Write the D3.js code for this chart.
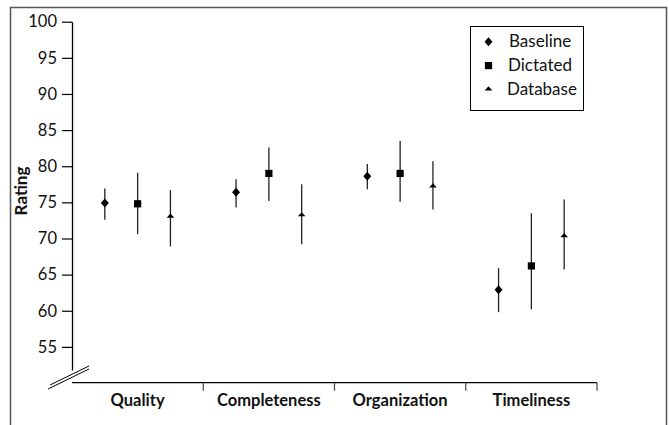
<!DOCTYPE html>
<html>
<head>
<meta charset="utf-8">
<script src="https://cdn.jsdelivr.net/npm/d3@7"></script>
<style>
  body { margin: 0; background: #fff; }
  text { font-family: Lato, "Open Sans", sans-serif; fill: #111; }
  .catLabel { font-size: 16.5px; font-weight: bold; }
  .legendText { font-size: 17px; }
</style>
</head>
<body>
<div id="chart"></div>
<script>
// chart data
var categories = ["Quality", "Completeness", "Organization", "Timeliness"];
var series = ["Baseline", "Dictated", "Database"];
var yTicks = [55, 60, 65, 70, 75, 80, 85, 90, 95, 100];

// mean, low, high per category (same order as categories)
var baselineMean = [74.9, 76.4, 78.6, 62.9];
var baselineLow  = [72.6, 74.3, 76.8, 59.8];
var baselineHigh = [76.9, 78.2, 80.3, 65.9];

var dictatedMean = [74.8, 79.0, 79.0, 66.2];
var dictatedLow  = [70.6, 75.2, 75.1, 60.2];
var dictatedHigh = [79.1, 82.6, 83.5, 73.5];

var databaseMean = [73.0, 73.2, 77.2, 70.3];
var databaseLow  = [68.9, 69.2, 74.0, 65.7];
var databaseHigh = [76.7, 77.5, 80.7, 75.4];

var seriesValues = {
    "Baseline": [baselineMean, baselineLow, baselineHigh],
    "Dictated": [dictatedMean, dictatedLow, dictatedHigh],
    "Database": [databaseMean, databaseLow, databaseHigh]
};

var width = 669, height = 425;

var svg = d3.select("#chart").append("svg")
    .attr("width", width)
    .attr("height", height);

// outer frame
svg.append("rect")
    .attr("x", 10.5).attr("y", 7.5)
    .attr("width", 656).attr("height", 440)
    .attr("fill", "none")
    .attr("stroke", "#555")
    .attr("stroke-width", 1.5);

// scales
var y = d3.scaleLinear()
    .domain([51.8, 100])
    .range([370, 21.7]);

var x = d3.scaleBand()
    .domain(categories)
    .range([72, 597])
    .padding(0);

var xs = d3.scalePoint()
    .domain(series)
    .range([0, x.bandwidth()])
    .padding(1);

// y axis
var yAxis = svg.append("g")
    .attr("transform", "translate(72,0)")
    .call(d3.axisLeft(y).tickValues(yTicks).tickSize(10).tickSizeOuter(0).tickPadding(5));
yAxis.select(".domain").attr("stroke", "#000").attr("stroke-width", 1.3);
yAxis.selectAll(".tick line").attr("stroke", "#000").attr("stroke-width", 1.2);
yAxis.selectAll(".tick text").attr("fill", "#111").style("font-size", "16.5px")
    .style("font-family", "Lato, 'Open Sans', sans-serif");

// x axis line and category dividers
var axisY = 382.7;
svg.append("line")
    .attr("x1", x.range()[0]).attr("x2", x.range()[1])
    .attr("y1", axisY).attr("y2", axisY)
    .attr("stroke", "#000").attr("stroke-width", 1.3);

svg.selectAll(".divider")
    .data(categories)
    .enter().append("line")
    .attr("class", "divider")
    .attr("x1", function(d) { return x(d) + x.bandwidth(); })
    .attr("x2", function(d) { return x(d) + x.bandwidth(); })
    .attr("y1", axisY)
    .attr("y2", axisY + 8)
    .attr("stroke", "#444")
    .attr("stroke-width", 1.2);

svg.selectAll(".catLabel")
    .data(categories)
    .enter().append("text")
    .attr("class", "catLabel")
    .attr("x", function(d) { return x(d) + x.bandwidth() / 2; })
    .attr("y", 406)
    .attr("text-anchor", "middle")
    .text(function(d) { return d; });

// axis break marks
svg.append("line")
    .attr("x1", 48).attr("y1", 389).attr("x2", 89).attr("y2", 369)
    .attr("stroke", "#000").attr("stroke-width", 1);
svg.append("line")
    .attr("x1", 50).attr("y1", 385).attr("x2", 89).attr("y2", 366)
    .attr("stroke", "#000").attr("stroke-width", 1);

// y axis title
svg.append("text")
    .attr("transform", "translate(27,191) rotate(-90)")
    .attr("text-anchor", "middle")
    .style("font-size", "17px")
    .style("font-weight", "bold")
    .text("Rating");

// markers
function markerPath(s) {
    var p = d3.path();
    if (s == "Baseline") {
        p.moveTo(0, -4.5); p.lineTo(4, 0); p.lineTo(0, 4.5); p.lineTo(-4, 0); p.closePath();
    } else if (s == "Dictated") {
        p.rect(-3.6, -3.6, 7.2, 7.2);
    } else {
        p.moveTo(-3.8, 1); p.lineTo(0, -3.2); p.lineTo(3.8, 1); p.closePath();
    }
    return p.toString();
}

// build point records
var points = [];
series.forEach(function(s) {
    var v = seriesValues[s];
    categories.forEach(function(c, i) {
        points.push({ cat: c, series: s, mean: v[0][i], low: v[1][i], high: v[2][i] });
    });
});

var px = function(d) { return x(d.cat) + xs(d.series); };

svg.selectAll(".errbar")
    .data(points)
    .enter().append("line")
    .attr("class", "errbar")
    .attr("x1", px).attr("x2", px)
    .attr("y1", function(d) { return y(d.low); })
    .attr("y2", function(d) { return y(d.high); })
    .attr("stroke", "#222")
    .attr("stroke-width", 1.3);

svg.selectAll(".marker")
    .data(points)
    .enter().append("path")
    .attr("class", "marker")
    .attr("transform", function(d) { return "translate(" + px(d) + "," + y(d.mean) + ")"; })
    .attr("d", function(d) { return markerPath(d.series); })
    .attr("fill", "#000");

// legend
var legend = svg.append("g");
legend.append("rect")
    .attr("x", 470.5).attr("y", 26.5)
    .attr("width", 113).attr("height", 84)
    .attr("fill", "#fff")
    .attr("stroke", "#000")
    .attr("stroke-width", 1);

var legendRow = d3.scalePoint().domain(series).range([41.7, 89.5]);

legend.selectAll(".legendMarker")
    .data(series)
    .enter().append("path")
    .attr("class", "legendMarker")
    .attr("transform", function(d) { return "translate(488.5," + legendRow(d) + ")"; })
    .attr("d", function(d) { return markerPath(d); })
    .attr("fill", "#000");

legend.selectAll(".legendText")
    .data(series)
    .enter().append("text")
    .attr("class", "legendText")
    .attr("x", function(d, i) { return 509 - i; })
    .attr("y", function(d) { return legendRow(d) + 5.5; })
    .text(function(d) { return d; });
</script>
</body>
</html>
